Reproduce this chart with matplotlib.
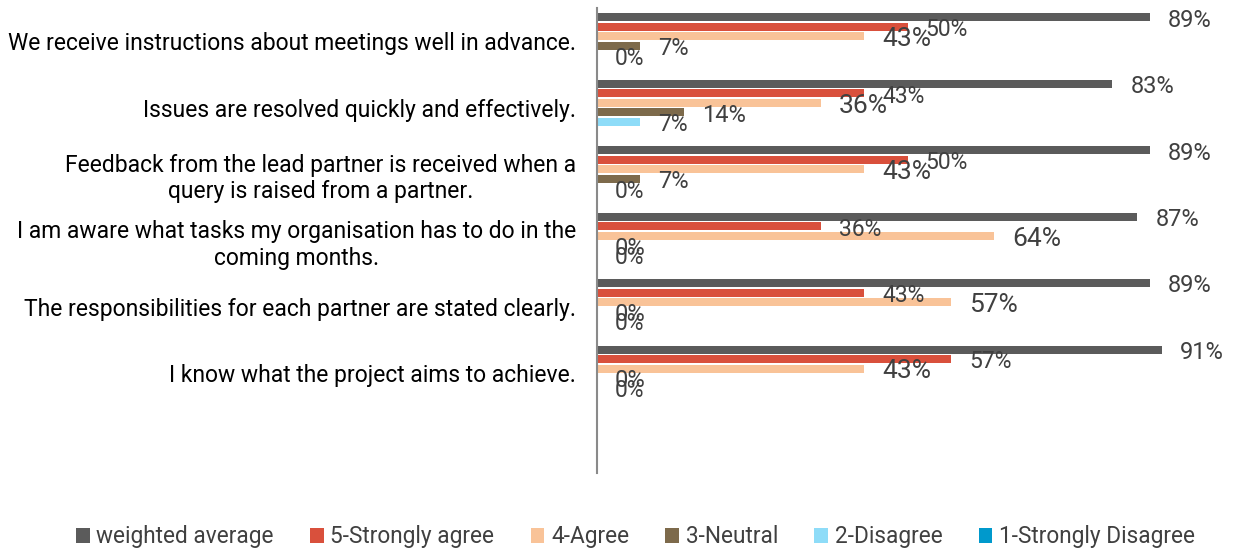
import numpy as np
import matplotlib.pyplot as plt

plt.rcParams['font.family'] = ['Roboto', 'DejaVu Sans']

categories = [
    "We receive instructions about meetings well in advance.",
    "Issues are resolved quickly and effectively.",
    "Feedback from the lead partner is received when a\nquery is raised from a partner.",
    "I am aware what tasks my organisation has to do in the\ncoming months.",
    "The responsibilities for each partner are stated clearly.",
    "I know what the project aims to achieve.",
    "",
]
series_names = ["weighted average", "5-Strongly agree", "4-Agree",
                "3-Neutral", "2-Disagree", "1-Strongly Disagree"]
weighted_avg = [89, 83, 89, 87, 89, 91]
strongly_agree = [50, 43, 50, 36, 43, 57]
agree = [43, 36, 43, 64, 57, 43]
neutral = [7, 14, 7, 0, 0, 0]
disagree = [0, 7, 0, 0, 0, 0]
strongly_disagree = [None] * 6

colors = ["#5b5b5b", "#d9503c", "#f9c398", "#7d6a4b", "#8edcf8", "#0099cc"]
label_sizes = [17, 16.5, 19, 17, 16.5, 16.5]

fig = plt.figure(figsize=(12.34, 5.49), dpi=100)
ax = fig.add_axes([597 / 1234, 1 - 473 / 549, 621 / 1234, 465 / 549])

all_series = [weighted_avg, strongly_agree, agree, neutral, disagree, strongly_disagree]
n = len(all_series)
slot = 0.143
ind = np.arange(len(categories) - 1)

for i, (name, vals, c) in enumerate(zip(series_names, all_series, colors)):
    y = ind + (i - (n - 1) / 2) * slot
    v = [0 if x is None else x for x in vals]
    ax.barh(y, v, height=slot * 0.84, color=c, label=name)
    for yy, x in zip(y, vals):
        if x is None:
            continue
        ax.annotate('%d%%' % x, (x, yy), xytext=(13, -2), textcoords='offset points',
                    va='center', ha='left', fontsize=label_sizes[i], color='#404040',
                    annotation_clip=False)

ax.set_xlim(0, 100)
ax.set_ylim(len(categories) - 0.5, -0.5)
ax.set_yticks(np.arange(len(categories)))
ax.set_yticklabels(categories, fontsize=16.5, color='#000000', multialignment='center')
ax.tick_params(axis='y', length=0, pad=15)
ax.set_xticks([])
for s in ['top', 'right', 'bottom']:
    ax.spines[s].set_visible(False)
ax.spines['left'].set_color('#8a8a8a')
ax.spines['left'].set_linewidth(1.5)

fig.legend(loc='center', bbox_to_anchor=(0.515, 0.022), ncol=6, frameon=False,
           fontsize=16.3, handlelength=0.6, handleheight=0.6, handletextpad=0.3,
           columnspacing=1.6, labelcolor='#404040')

fig.savefig('out.png', dpi=100)
